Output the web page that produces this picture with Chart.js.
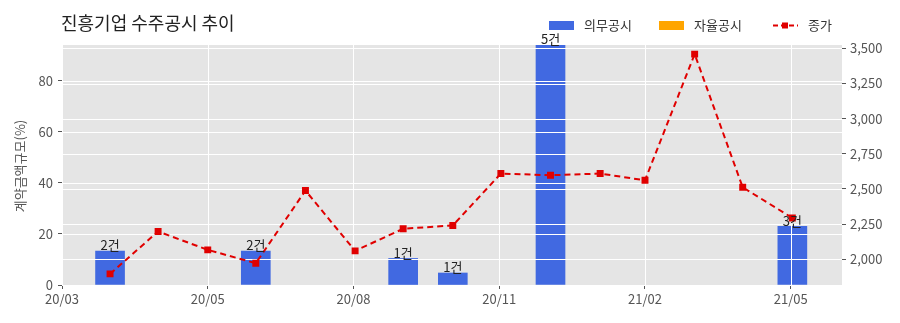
<!DOCTYPE html>
<html>
<head>
<meta charset="utf-8">
<script src="https://cdn.jsdelivr.net/npm/chart.js@4"></script>
<style>
  body { margin: 0; background: #fff; }
  #wrap { width: 900px; height: 323px; }
</style>
</head>
<body>
<div id="wrap"><canvas id="chart" width="900" height="323"></canvas></div>
<script>
const months = ["2020-03-31", "2020-04-30", "2020-05-31", "2020-06-30", "2020-07-31",
  "2020-08-31", "2020-09-30", "2020-10-31", "2020-11-30", "2020-12-31",
  "2021-01-31", "2021-02-28", "2021-03-31", "2021-04-30", "2021-05-31"];
const mandatory = [13.3, 0, 0, 13.3, 0, 0, 10.4, 4.7, 0, 94, 0, 0, 0, 0, 23];
const voluntary = [0, 0, 0, 0, 0, 0, 0, 0, 0, 0, 0, 0, 0, 0, 0];
const counts = [2, 0, 0, 2, 0, 0, 1, 1, 0, 5, 0, 0, 0, 0, 3];
const closePrice = [1895, 2197, 2066, 1971, 2488, 2059, 2216, 2240, 2609, 2597, 2609, 2561, 3459, 2511, 2293];

const xTickDates = ["2020-03-01", "2020-05-31", "2020-08-30", "2020-11-29", "2021-02-28", "2021-05-30"];
const xTickLabels = ["20/03", "20/05", "20/08", "20/11", "21/02", "21/05"];
const leftTicks = [0, 20, 40, 60, 80];
const rightTicks = [2000, 2250, 2500, 2750, 3000, 3250, 3500];

const day = (s) => Date.parse(s) / 86400000;
const xs = months.map(day);
const xTicks = xTickDates.map(day);

const FONT = "'Noto Sans CJK KR', 'Noto Sans', sans-serif";

// background, grid over bars, text
const decor = {
  id: "decor",
  beforeDraw(chart) {
    const { ctx, chartArea: a } = chart;
    ctx.save();
    ctx.fillStyle = "#e5e5e5";
    ctx.fillRect(a.left, a.top, a.right - a.left, a.bottom - a.top);
    ctx.restore();
  },
  afterDatasetDraw(chart, args) {
    if (args.index !== 1) return;
    const { ctx, chartArea: a, scales } = chart;
    ctx.save();
    ctx.strokeStyle = "#ffffff";
    ctx.lineWidth = 1;
    ctx.beginPath();
    scales.x.ticks.forEach((t) => {
      const px = Math.round(scales.x.getPixelForValue(t.value)) + 0.5;
      ctx.moveTo(px, a.top); ctx.lineTo(px, a.bottom);
    });
    [scales.y, scales.y2].forEach((s) => {
      s.ticks.forEach((t) => {
        const py = Math.round(s.getPixelForValue(t.value)) + 0.5;
        ctx.moveTo(a.left, py); ctx.lineTo(a.right, py);
      });
    });
    ctx.stroke();
    ctx.restore();
  },
  afterDraw(chart) {
    const { ctx, scales } = chart;
    ctx.save();
    // title
    ctx.fillStyle = "#222";
    ctx.font = "18px " + FONT;
    ctx.textBaseline = "middle";
    ctx.textAlign = "left";
    ctx.fillText("진흥기업 수주공시 추이", 61, 23);

    // bar count labels
    ctx.font = "13px " + FONT;
    ctx.textAlign = "center";
    ctx.textBaseline = "bottom";
    ctx.fillStyle = "#222";
    counts.forEach((c, i) => {
      if (!c) return;
      const px = scales.x.getPixelForValue(xs[i]);
      const py = scales.y.getPixelForValue(mandatory[i]);
      ctx.fillText(c + "건", px, py + 1);
    });

    // legend
    ctx.textAlign = "left";
    ctx.textBaseline = "middle";
    ctx.fillStyle = "#4169e1";
    ctx.fillRect(549, 21, 25, 9);
    ctx.fillStyle = "#ffa500";
    ctx.fillRect(659, 21, 25, 9);
    ctx.strokeStyle = "#e00000";
    ctx.lineWidth = 2;
    ctx.setLineDash([5, 3]);
    ctx.beginPath();
    ctx.moveTo(773, 25.5); ctx.lineTo(798, 25.5);
    ctx.stroke();
    ctx.setLineDash([]);
    ctx.fillStyle = "#e00000";
    ctx.fillRect(782, 22.5, 6, 6);
    ctx.fillStyle = "#333";
    ctx.font = "13px " + FONT;
    ctx.fillText("의무공시", 584, 25);
    ctx.fillText("자율공시", 694, 25);
    ctx.fillText("종가", 808, 25);

    // left axis title
    ctx.fillStyle = "#555";
    ctx.translate(20, 166);
    ctx.rotate(-Math.PI / 2);
    ctx.textAlign = "center";
    ctx.fillText("계약금액규모(%)", 0, 0);
    ctx.restore();
  },
};

new Chart(document.getElementById("chart"), {
  data: {
    datasets: [
      {
        type: "line",
        label: "종가",
        data: xs.map((x, i) => ({ x: x, y: closePrice[i] })),
        yAxisID: "y2",
        borderColor: "#e00000",
        backgroundColor: "#e00000",
        borderWidth: 2,
        borderDash: [6, 4],
        pointStyle: "rect",
        pointRadius: 3.5,
        pointHoverRadius: 3.5,
        tension: 0,
        order: 1,
      },
      {
        type: "bar",
        label: "의무공시",
        data: xs.map((x, i) => ({ x: x, y: mandatory[i] || null })),
        yAxisID: "y",
        backgroundColor: "#4169e1",
        barThickness: 29,
        grouped: false,
        order: 2,
      },
      {
        type: "bar",
        label: "자율공시",
        data: xs.map((x, i) => ({ x: x, y: voluntary[i] || null })),
        yAxisID: "y",
        backgroundColor: "#ffa500",
        barThickness: 29,
        grouped: false,
        order: 3,
      },
    ],
  },
  options: {
    responsive: false,
    devicePixelRatio: 1,
    animation: false,
    layout: { padding: { top: 45, left: 0, right: 0, bottom: 0 } },
    plugins: {
      legend: { display: false },
      title: { display: false },
      tooltip: { enabled: false },
    },
    scales: {
      x: {
        type: "linear",
        offset: false,
        min: day("2020-03-01"),
        max: day("2021-07-01"),
        afterBuildTicks: (s) => { s.ticks = xTicks.map((v) => ({ value: v })); },
        afterFit: (s) => { s.height = 38; },
        grid: { offset: false, drawOnChartArea: false, tickColor: "#555", tickLength: 4 },
        border: { display: false },
        ticks: {
          color: "#555",
          font: { family: FONT, size: 13 },
          padding: 2,
          maxRotation: 0,
          autoSkip: false,
          callback: (v) => xTickLabels[xTicks.indexOf(v)],
        },
      },
      y: {
        position: "left",
        min: 0,
        max: 94,
        afterBuildTicks: (s) => { s.ticks = leftTicks.map((v) => ({ value: v })); },
        afterFit: (s) => { s.width = 62; },
        grid: { drawOnChartArea: false, tickColor: "#555", tickLength: 4 },
        border: { display: false },
        ticks: { color: "#555", font: { family: FONT, size: 13 }, padding: 5 },
      },
      y2: {
        position: "right",
        min: 1816,
        max: 3524,
        afterBuildTicks: (s) => { s.ticks = rightTicks.map((v) => ({ value: v })); },
        afterFit: (s) => { s.width = 58; },
        grid: { drawOnChartArea: false, tickColor: "#555", tickLength: 4 },
        border: { display: false },
        ticks: {
          color: "#555",
          font: { family: FONT, size: 13 },
          padding: 4,
          callback: (v) => v.toLocaleString("en-US"),
        },
      },
    },
  },
  plugins: [decor],
});
</script>
</body>
</html>
